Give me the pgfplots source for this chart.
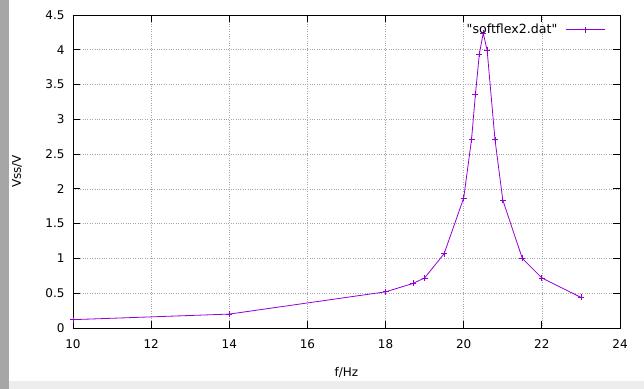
\documentclass[border=0pt]{standalone}
\usepackage{fontspec}
\setmainfont{DejaVu Sans}[Ligatures=TeXOff]
\usepackage{pgfplots}
\pgfplotsset{compat=1.18}
\definecolor{gpviolet}{HTML}{9400D3}
\begin{document}
\begin{tikzpicture}[font=\fontsize{12bp}{14bp}\selectfont]
\path[use as bounding box] (-73bp,-61bp) rectangle (571bp,15bp+313bp);
\fill[black!35] (-73bp,-61bp) rectangle (-64bp,328bp);
\fill[black!7] (-64bp,-61bp) rectangle (571bp,-53bp);
\begin{axis}[
  at={(0,0)}, anchor=south west,
  scale only axis, width=547bp, height=313bp,
  xmin=10, xmax=24, ymin=0, ymax=4.5,
  xtick={10,12,...,24},
  ytick={0,0.5,...,4.5},
  /pgf/number format/assume math mode=true,
  tick label style={font=\fontsize{12bp}{14bp}\selectfont},
  label style={font=\fontsize{12.5bp}{14bp}\selectfont},
  tick align=inside, major tick length=7bp,
  tick style={black, line width=0.8pt},
  axis line style={black, line width=0.8pt},
  grid=major,
  major grid style={gray!70, dotted, line width=0.6pt},
  xticklabel style={yshift=-8bp},
  yticklabel style={xshift=-5bp},
  xlabel={f/Hz}, ylabel={Vss/V},
  every axis x label/.style={at={(axis description cs:0.5,0)}, anchor=center, yshift=-44bp},
  every axis y label/.style={at={(axis description cs:0,0.5)}, anchor=center, xshift=-56bp, rotate=90},
  legend style={draw=none, fill=none, at={(1,1)}, anchor=north east, xshift=-11bp, yshift=-5bp, font=\fontsize{12.6bp}{14bp}\selectfont},
  legend plot pos=right,
  legend image code/.code={\draw[mark repeat=2,mark phase=2] plot coordinates {(0cm,0cm) (0.7cm,0cm) (1.4cm,0cm)};},
]
\addplot[gpviolet, line width=0.8pt, mark=+, mark size=3bp, mark options={solid, line width=0.8pt}] coordinates {
(10,0.12) (14,0.2) (18,0.52) (18.7,0.64) (19,0.72) (19.5,1.07) (20,1.87)
(20.2,2.71) (20.3,3.36) (20.4,3.94) (20.5,4.24) (20.6,3.99) (20.8,2.71)
(21,1.84) (21.5,1.0) (22,0.72) (23,0.44)
};
\addlegendentry{"softflex2.dat"\rule{6bp}{0pt}}
\end{axis}
\end{tikzpicture}
\end{document}
